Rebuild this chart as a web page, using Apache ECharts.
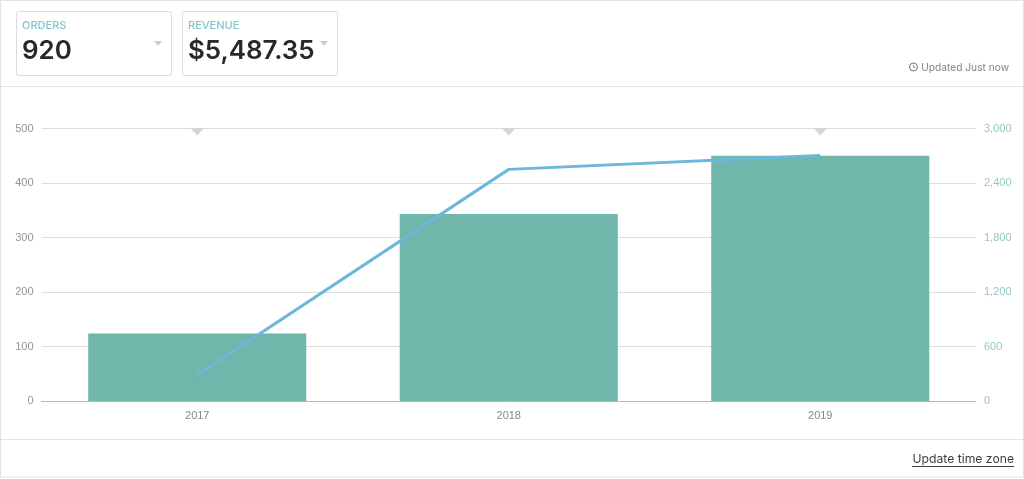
<!DOCTYPE html>
<html>
<head>
<meta charset="utf-8">
<style>
  html, body { margin: 0; padding: 0; background: #fff; }
  #chart { width: 1024px; height: 479px; }
</style>
<script src="https://cdn.jsdelivr.net/npm/echarts@6/dist/echarts.min.js"></script>
</head>
<body>
<div id="chart"></div>
<script>
const years = ['2017', '2018', '2019'];
const orders = [124, 343, 450];
const revenue = [285, 2550, 2703];
const pins = [500, 500, 500];

const uiFont = 'Inter, "Open Sans", sans-serif';
const tickFont = '"Liberation Sans", Arial, sans-serif';
const ruleColor = '#e2e4e4';

function card(x, width, heading, value, caretX, caretY) {
  return [
    { type: 'rect', shape: { x: x + 0.5, y: 11.5, width: width, height: 64, r: 2 },
      style: { fill: '#fff', stroke: '#d9dcdc', lineWidth: 1 } },
    { type: 'text', style: { x: x + 6, y: 20, text: heading, fill: '#84c5cb',
      font: '500 11px ' + uiFont } },
    { type: 'text', style: { x: x + 6, y: 38, text: value, fill: '#26282a',
      font: '600 25.9px ' + uiFont } },
    { type: 'polygon', shape: { points: [[caretX - 4, caretY], [caretX + 4, caretY], [caretX, caretY + 5]] },
      style: { fill: '#c9cccc' } }
  ];
}

const chart = echarts.init(document.getElementById('chart'), null, { renderer: 'canvas' });
chart.setOption({
  animation: false,
  backgroundColor: '#ffffff',
  grid: { left: 41.5, right: 48, top: 128.5, bottom: 78 },
  xAxis: {
    type: 'category',
    data: years,
    axisTick: { show: false },
    axisLine: { lineStyle: { color: '#b4b7b7', width: 1 } },
    axisLabel: { color: '#85888a', fontSize: 11, fontFamily: tickFont, margin: 9 }
  },
  yAxis: [
    {
      type: 'value', min: 0, max: 500, interval: 100,
      axisLine: { show: false }, axisTick: { show: false },
      splitLine: { lineStyle: { color: '#dcdede', width: 1 } },
      axisLabel: { color: '#939698', fontSize: 11, fontFamily: tickFont, margin: 8 }
    },
    {
      type: 'value', min: 0, max: 3000, interval: 600,
      axisLine: { show: false }, axisTick: { show: false },
      splitLine: { show: false },
      axisLabel: {
        color: '#93cac4', fontSize: 11, fontFamily: tickFont, margin: 8,
        formatter: v => v.toLocaleString('en-US')
      }
    }
  ],
  series: [
    { name: 'Orders', type: 'bar', data: orders, barWidth: '70%', itemStyle: { color: '#70b6ab' } },
    { name: 'Revenue', type: 'line', yAxisIndex: 1, data: revenue, showSymbol: false,
      lineStyle: { color: '#6bb8da', width: 3 }, z: 5 },
    { name: 'Pins', type: 'scatter', data: pins, symbol: 'triangle', symbolRotate: 180,
      symbolSize: [13, 7], symbolOffset: [0, 3.5], itemStyle: { color: '#cacccc' }, silent: true, z: 6 }
  ],
  graphic: [
    { type: 'rect', z: -10, silent: true, shape: { x: 0.5, y: 0.5, width: 1023, height: 476.5 },
      style: { fill: 'none', stroke: ruleColor, lineWidth: 1 } },
    { type: 'line', shape: { x1: 0, y1: 86.5, x2: 1024, y2: 86.5 }, style: { stroke: ruleColor, lineWidth: 1 } },
    { type: 'line', shape: { x1: 0, y1: 439.5, x2: 1024, y2: 439.5 }, style: { stroke: ruleColor, lineWidth: 1 } },
    ...card(16, 155, 'ORDERS', '920', 158, 41),
    ...card(182, 155, 'REVENUE', '$5,487.35', 324, 41),
    { type: 'circle', shape: { cx: 913.5, cy: 67, r: 4 }, style: { fill: 'none', stroke: '#6e7173', lineWidth: 1 } },
    { type: 'polyline', shape: { points: [[913.5, 64.8], [913.5, 67.3], [915.5, 67.3]] }, style: { fill: 'none', stroke: '#6e7173', lineWidth: 0.8 } },
    { type: 'text', style: { x: 1009, y: 67.5, text: 'Updated Just now', fill: '#808385',
      font: '400 10.2px ' + uiFont, align: 'right', verticalAlign: 'middle' } },
    { type: 'text', style: { x: 1014, y: 459, text: 'Update time zone', fill: '#3b3d3f',
      font: '400 12.2px ' + uiFont, align: 'right', verticalAlign: 'middle' } },
    { type: 'line', shape: { x1: 912, y1: 466.5, x2: 1014, y2: 466.5 }, style: { stroke: '#3b3d3f', lineWidth: 1 } }
  ]
});
</script>
</body>
</html>
